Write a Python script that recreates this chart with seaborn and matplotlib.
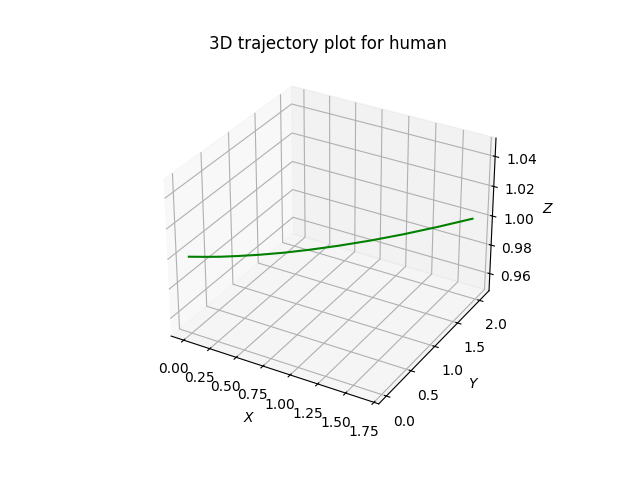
from matplotlib import pyplot as plt
import seaborn as sns

sns.reset_orig()

# trajectory
x_pos = [0.0, 0.109, 0.217, 0.334, 0.468, 0.618, 0.768, 0.935, 1.119, 1.303, 1.486, 1.67]
y_pos = [0.0, 0.075, 0.155, 0.255, 0.379, 0.532, 0.704, 0.913, 1.165, 1.443, 1.745, 2.07]
z_pos = [1.0] * len(x_pos)

fig = plt.figure(figsize=(6.4, 4.8), dpi=100)
ax = fig.add_subplot(projection='3d')
ax.plot(x_pos, y_pos, z_pos, color='g')
ax.set_title('3D trajectory plot for human')
ax.set_xlabel('$X$')
ax.set_ylabel('$Y$')
ax.set_zlabel('$Z$')
fig.savefig('out.png')
